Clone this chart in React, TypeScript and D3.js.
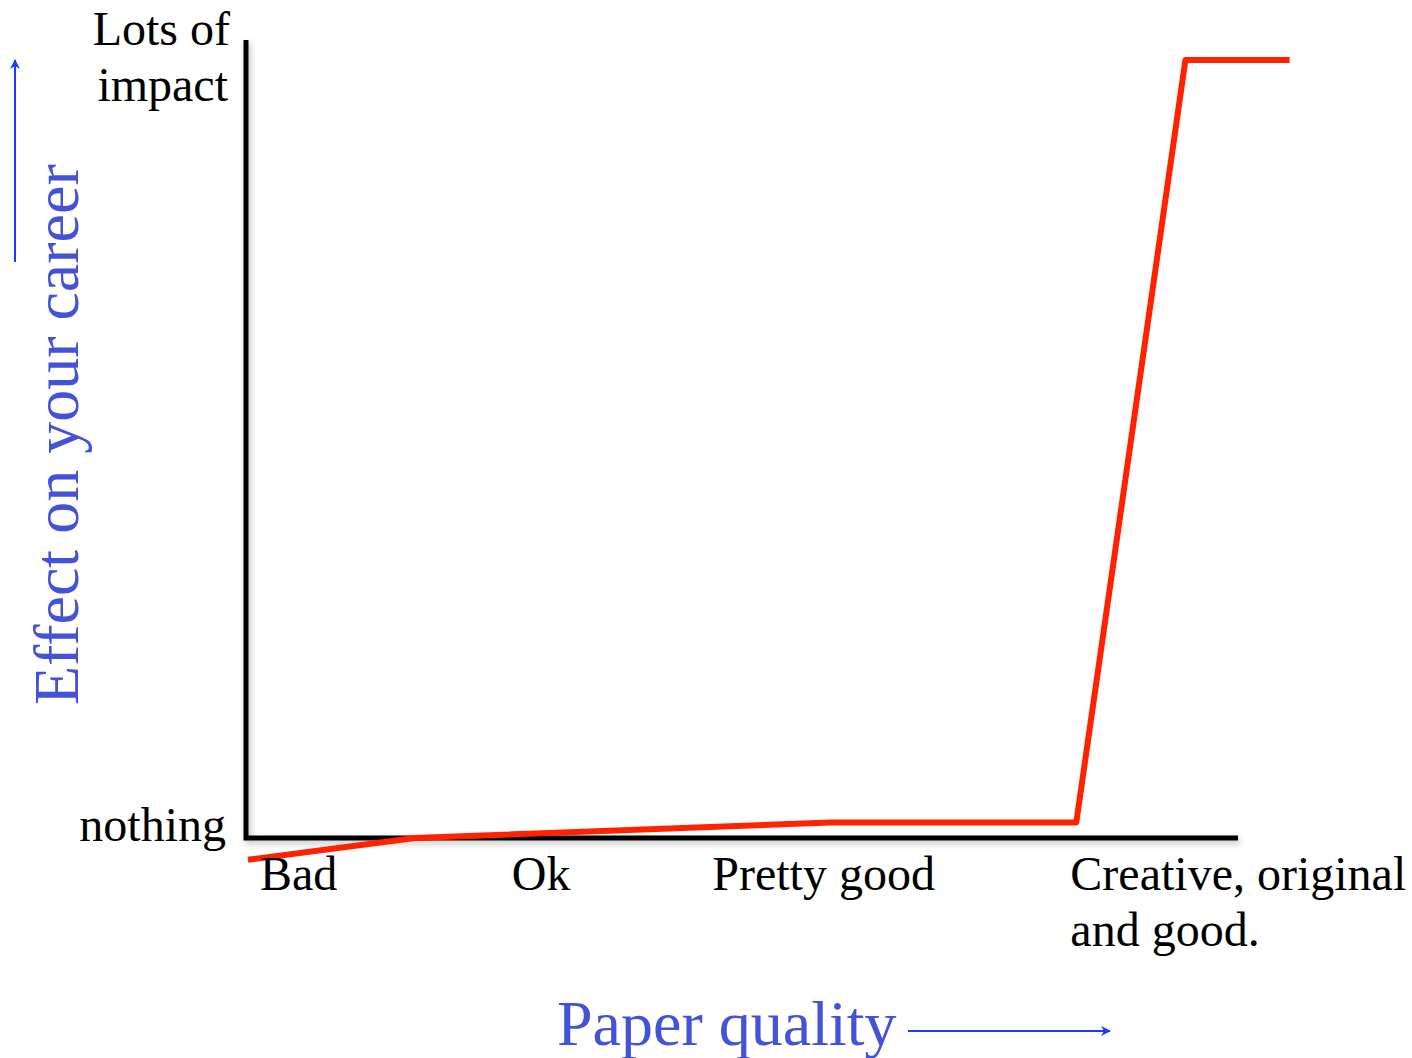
import React from "react";
import * as d3 from "d3";

const qualityLevels = [0.002, 0.17, 0.589, 0.837, 0.947, 1.052];
const careerEffect = [-0.028, 0.0, 0.02, 0.02, 1.0, 1.0];
const categoryLabels = [
  { lines: ["Bad"], at: 0.014 },
  { lines: ["Ok"], at: 0.268 },
  { lines: ["Pretty good"], at: 0.47 },
  { lines: ["Creative, original", "and good."], at: 0.831 },
];
const yTickLabels = [
  { lines: ["Lots of", "impact"], value: 1.0 },
  { lines: ["nothing"], value: 0 },
];
const xTitle = "Paper quality";
const yTitle = "Effect on your career";

const W = 1412;
const H = 1058;
const serif = "'Liberation Serif', 'Times New Roman', serif";

export default function App() {
  const x0 = 246, x1 = 1238, yBase = 838, yTop = 60;
  const x = d3.scaleLinear().domain([0, 1]).range([x0, x1]);
  const y = d3.scaleLinear().domain([0, 1]).range([yBase, yTop]);
  const pts = qualityLevels.map((q, i) => [q, careerEffect[i]] as [number, number]);
  const line = d3.line<[number, number]>().x((d) => x(d[0])).y((d) => y(d[1]));
  const blue = "#1a3cff";
  const textBlue = "#4352d8";

  return (
    <svg width={W} height={H} style={{ position: "absolute", left: 0, top: 0, background: "#fff" }}>
      <defs>
        <filter id="sh" x="-5%" y="-5%" width="110%" height="110%">
          <feDropShadow dx="2" dy="3" stdDeviation="3" floodColor="#000" floodOpacity="0.25" />
        </filter>
        <marker id="ah" viewBox="0 0 10 10" refX="9" refY="5" markerWidth="5" markerHeight="5" orient="auto">
          <path d="M0,0 L10,5 L0,10 L3,5 Z" fill={blue} />
        </marker>
      </defs>
      {/* axes */}
      <path
        d={`M${x0},40 L${x0},${yBase} L${x1},${yBase}`}
        fill="none"
        stroke="#000"
        strokeWidth={5}
        filter="url(#sh)"
      />
      {/* red curve */}
      <path d={line(pts) || ""} fill="none" stroke="#ff2200" strokeWidth={6} strokeLinejoin="round" />
      {/* y tick labels */}
      <g fontFamily={serif} fontSize={48} fill="#000" textAnchor="end">
        <text x={230} y={45}>
          {yTickLabels[0].lines[0]}
        </text>
        <text x={228} y={101}>
          {yTickLabels[0].lines[1]}
        </text>
        <text x={226} y={y(yTickLabels[1].value) + 3}>
          {yTickLabels[1].lines[0]}
        </text>
      </g>
      {/* category labels */}
      <g fontFamily={serif} fontSize={48} fill="#000">
        {categoryLabels.map((c, i) =>
          c.lines.map((l, j) => (
            <text key={`${i}-${j}`} x={x(c.at)} y={890 + j * 56}>
              {l}
            </text>
          ))
        )}
      </g>
      {/* titles */}
      <text x={557} y={1045} fontFamily={serif} fontSize={64} fill={textBlue}>
        {xTitle}
      </text>
      <text
        transform={`translate(78,705) rotate(-90)`}
        fontFamily={serif}
        fontSize={64}
        fill={textBlue}
      >
        {yTitle}
      </text>
      {/* arrows */}
      <line x1={908} y1={1031} x2={1110} y2={1031} stroke={blue} strokeWidth={2} markerEnd="url(#ah)" />
      <line x1={15} y1={262} x2={15} y2={60} stroke={blue} strokeWidth={2} markerEnd="url(#ah)" />
    </svg>
  );
}
